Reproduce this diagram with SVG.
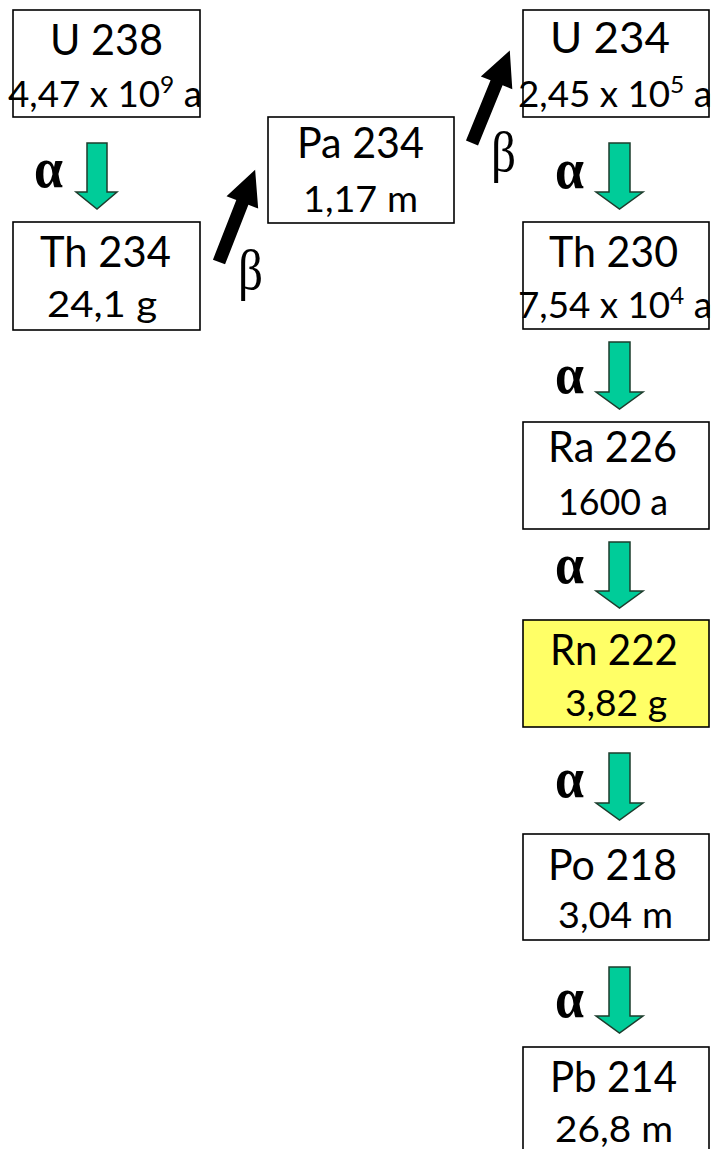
<svg xmlns="http://www.w3.org/2000/svg" width="715" height="1149" viewBox="0 0 715 1149">
<style>
.box{fill:#fff;stroke:#000;stroke-width:1.6}
.hl{fill:#FFFF66}
.t1{font-family:Lato,"Open Sans","Liberation Sans",sans-serif;font-size:42px;fill:#000;text-anchor:middle}
.t2{font-family:Lato,"Open Sans","Liberation Sans",sans-serif;font-size:36px;fill:#000;text-anchor:middle}
.sup{font-size:24px}
.al{font-family:"Liberation Serif",serif;font-weight:bold;font-size:58px;fill:#000}
.be{font-family:"Liberation Serif",serif;font-size:57px;fill:#000}
.ga{fill:#00CC99;stroke:#1d3d2d;stroke-width:1.5}
.ba{fill:#000}
</style>
<g id="connectors">
<path class="ga" d="M87,143 H107 V192 H117 L97,209 L76,192 H87 Z"/>
<path class="ga" d="M609,143 H630 V192 H643 L619.5,209 L596,192 H609 Z"/>
<path class="ga" d="M609,342 H630 V392 H643 L619.5,409 L596,392 H609 Z"/>
<path class="ga" d="M609,542 H630 V591 H643 L619.5,608 L596,591 H609 Z"/>
<path class="ga" d="M609,753 H630 V803 H643 L619.5,820 L596,803 H609 Z"/>
<path class="ga" d="M609,967 H630 V1016 H643 L619.5,1033 L596,1016 H609 Z"/>
<path class="ba" transform="translate(219,262) rotate(21.4)" d="M-6.5,0 H6.5 V-64 H17 L0,-99 L-17,-64 H-6.5 Z"/>
<path class="ba" transform="translate(472,143) rotate(22.2)" d="M-6.5,0 H6.5 V-65 H17 L0,-100 L-17,-65 H-6.5 Z"/>
<text class="al" x="34" y="187" textLength="29" lengthAdjust="spacingAndGlyphs">α</text>
<text class="al" x="555" y="188" textLength="29" lengthAdjust="spacingAndGlyphs">α</text>
<text class="al" x="555" y="393" textLength="29" lengthAdjust="spacingAndGlyphs">α</text>
<text class="al" x="555" y="583" textLength="29" lengthAdjust="spacingAndGlyphs">α</text>
<text class="al" x="555" y="797" textLength="29" lengthAdjust="spacingAndGlyphs">α</text>
<text class="al" x="555" y="1017" textLength="29" lengthAdjust="spacingAndGlyphs">α</text>
<text class="be" x="238" y="289" textLength="25" lengthAdjust="spacingAndGlyphs">β</text>
<text class="be" x="491" y="171" textLength="25" lengthAdjust="spacingAndGlyphs">β</text>
</g>
<g id="u238">
<rect class="box" x="13" y="10" width="187" height="107"/>
<text class="t1" x="106.5" y="55" textLength="113" lengthAdjust="spacingAndGlyphs">U 238</text>
<text class="t2" x="105" y="107" textLength="194" lengthAdjust="spacingAndGlyphs">4,47 x 10<tspan class="sup" dy="-14">9</tspan><tspan dy="14"> a</tspan></text>
</g>
<g id="th234">
<rect class="box" x="13" y="222" width="187" height="108"/>
<text class="t1" x="105.5" y="267" textLength="131" lengthAdjust="spacingAndGlyphs">Th 234</text>
<text class="t2" x="102" y="317" textLength="110" lengthAdjust="spacingAndGlyphs">24,1 g</text>
</g>
<g id="pa234">
<rect class="box" x="268" y="117" width="186" height="106"/>
<text class="t1" x="360.5" y="158" textLength="127" lengthAdjust="spacingAndGlyphs">Pa 234</text>
<text class="t2" x="360.5" y="212" textLength="115" lengthAdjust="spacingAndGlyphs">1,17 m</text>
</g>
<g id="u234">
<rect class="box" x="523" y="10" width="186" height="107"/>
<text class="t1" x="610" y="53" textLength="120" lengthAdjust="spacingAndGlyphs">U 234</text>
<text class="t2" x="615" y="107" textLength="194" lengthAdjust="spacingAndGlyphs">2,45 x 10<tspan class="sup" dy="-14">5</tspan><tspan dy="14"> a</tspan></text>
</g>
<g id="th230">
<rect class="box" x="523" y="222" width="186" height="107"/>
<text class="t1" x="613.5" y="267" textLength="129" lengthAdjust="spacingAndGlyphs">Th 230</text>
<text class="t2" x="615" y="318" textLength="194" lengthAdjust="spacingAndGlyphs">7,54 x 10<tspan class="sup" dy="-14">4</tspan><tspan dy="14"> a</tspan></text>
</g>
<g id="ra226">
<rect class="box" x="523" y="422" width="186" height="107"/>
<text class="t1" x="612.5" y="462" textLength="129" lengthAdjust="spacingAndGlyphs">Ra 226</text>
<text class="t2" x="613" y="515" textLength="110" lengthAdjust="spacingAndGlyphs">1600 a</text>
</g>
<g id="rn222">
<rect class="box hl" x="523" y="620" width="186" height="107"/>
<text class="t1" x="614" y="665" textLength="128" lengthAdjust="spacingAndGlyphs">Rn 222</text>
<text class="t2" x="616" y="716" textLength="102" lengthAdjust="spacingAndGlyphs">3,82 g</text>
</g>
<g id="po218">
<rect class="box" x="523" y="834" width="186" height="106"/>
<text class="t1" x="612.5" y="880" textLength="129" lengthAdjust="spacingAndGlyphs">Po 218</text>
<text class="t2" x="615.5" y="928" textLength="115" lengthAdjust="spacingAndGlyphs">3,04 m</text>
</g>
<g id="pb214">
<rect class="box" x="523" y="1047" width="186" height="110"/>
<text class="t1" x="613.5" y="1092" textLength="127" lengthAdjust="spacingAndGlyphs">Pb 214</text>
<text class="t2" x="614" y="1142" textLength="118" lengthAdjust="spacingAndGlyphs">26,8 m</text>
</g>
</svg>
